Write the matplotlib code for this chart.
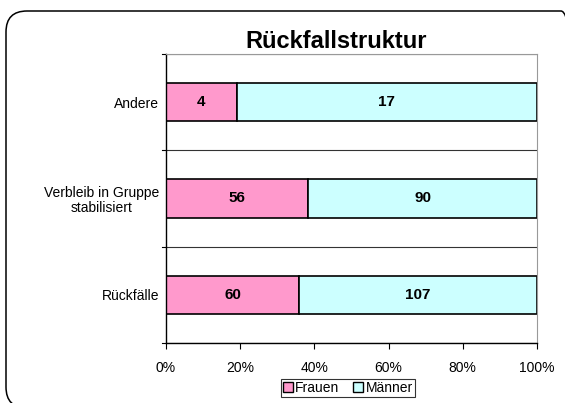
import matplotlib
matplotlib.use("Agg")
from matplotlib import pyplot as plt
from matplotlib.patches import FancyBboxPatch, Patch
import numpy as np

plt.rcParams["font.family"] = ["Liberation Sans", "DejaVu Sans"]

categories = ["Rückfälle", "Verbleib in Gruppe\nstabilisiert", "Andere"]
frauen = np.array([60, 56, 4])
maenner = np.array([107, 90, 17])

pink = "#FF99CC"
cyan = "#CCFFFF"

W, H = 565, 403
fig = plt.figure(figsize=(W / 100, H / 100), dpi=100)

# Rounded outer frame, in inches; right and bottom edges fall outside the image
frame = FancyBboxPatch(
    (0.06, -0.05), 5.76, 4.03 - 0.11 + 0.05,
    boxstyle="round,pad=0,rounding_size=0.21",
    transform=fig.dpi_scale_trans, fill=False, edgecolor="black", linewidth=1.1,
)
fig.patches.append(frame)

ax = fig.add_axes([166 / W, 1 - 343 / H, (537 - 166) / W, (343 - 54) / H])

total = frauen + maenner
f_share = frauen / total
m_share = maenner / total
y = np.arange(len(categories))

ax.barh(y, f_share, height=0.4, color=pink, edgecolor="black", linewidth=1.2)
ax.barh(y, m_share, left=f_share, height=0.4, color=cyan, edgecolor="black", linewidth=1.2)

for i in range(len(categories)):
    ax.text(f_share[i] / 2, y[i], str(frauen[i]), ha="center", va="center",
            fontsize=11, fontweight="bold")
    ax.text(f_share[i] + m_share[i] / 2, y[i], str(maenner[i]), ha="center", va="center",
            fontsize=11, fontweight="bold")

ax.set_xlim(0, 1)
ax.set_ylim(-0.5, len(categories) - 0.5)
ticks = np.linspace(0, 1, 6)
ax.set_xticks(ticks)
ax.set_xticklabels([f"{int(round(v * 100))}%" for v in ticks], fontsize=10)
ax.set_yticks(y)
ax.set_yticklabels(categories, fontsize=10, multialignment="center", linespacing=1.1)
ax.tick_params(axis="y", length=0, pad=5)
ax.tick_params(axis="x", length=4, direction="out", pad=9)

# category separators
for b in np.arange(-0.5, len(categories), 1.0):
    ax.axhline(b, color="#333333", linewidth=0.8, zorder=0)
    ax.plot([-0.012, 0], [b, b], color="black", linewidth=0.8, clip_on=False)

ax.spines["top"].set_color("#999999")
ax.spines["right"].set_color("#999999")
ax.spines["left"].set_linewidth(1.0)
ax.spines["bottom"].set_linewidth(1.0)

fig.text(336 / W, 1 - 41 / H, "Rückfallstruktur", ha="center", va="center",
         fontsize=17, fontweight="bold")

handles = [Patch(facecolor=pink, edgecolor="black"), Patch(facecolor=cyan, edgecolor="black")]
leg = fig.legend(handles, ["Frauen", "Männer"], loc="center",
                 bbox_to_anchor=(348 / W, 1 - 388 / H),
                 ncol=2, fontsize=10, frameon=True, fancybox=False, edgecolor="black",
                 handlelength=0.7, handleheight=0.7, handletextpad=0.2, columnspacing=1.0,
                 borderpad=0.15, borderaxespad=0)
leg.get_frame().set_linewidth(0.8)

fig.savefig("out.png", dpi=100)
